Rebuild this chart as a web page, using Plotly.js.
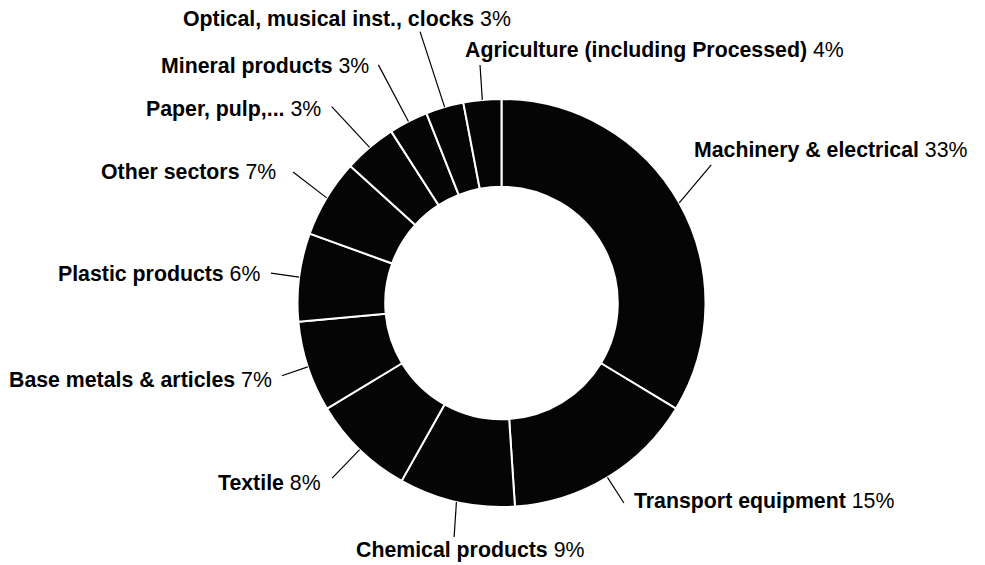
<!DOCTYPE html>
<html>
<head>
<meta charset="utf-8">
<script src="https://cdn.plot.ly/plotly-3.0.1.min.js"></script>
<style>html,body{margin:0;padding:0;background:#fff;}#chart{width:985px;height:565px;}</style>
</head>
<body>
<div id="chart"></div>
<script>
// ---- data ----
const categories = [
  "Machinery & electrical",
  "Transport equipment",
  "Chemical products",
  "Textile",
  "Base metals & articles",
  "Plastic products",
  "Other sectors",
  "Paper, pulp,...",
  "Mineral products",
  "Optical, musical inst., clocks",
  "Agriculture (including Processed)"
];
// slice sizes as drawn (share of the ring, %)
const sliceValues = [33.7, 15.3, 9.2, 8.2, 7.2, 7.0, 6.2, 4.2, 3.1, 3.0, 3.0];
// percentages printed on the labels
const pctLabels = ["33%", "15%", "9%", "8%", "7%", "6%", "7%", "3%", "3%", "3%", "4%"];

// ---- layout / style (pixels) ----
const W = 985, H = 565;
const CX = 501.5, CY = 303, R = 204;
// leader line end offset from slice edge point
const leadEnd = [[32,-38],[16.5,25.7],[-2.3,35],[-27.5,28.5],[-25.8,8.9],[-28.2,-4.1],[-33.6,-25.9],[-37.9,-40.7],[-30,-56.6],[-24.6,-75.4],[-2.3,-34.9]];
// text anchor offset from leader line end
const textOff = [[-19,-14.5],[7.7,-2],[15.5,13],[-9,5],[-8,4],[-9,1],[-15,0],[-9,2.3],[-7.6,1],[-73.5,-12.7],[-17,-15]];
const textAnchor = ["left","left","center","right","right","right","right","right","right","center","left"];

const FONT = "Liberation Sans, Arial, Helvetica, sans-serif";
const FS = 21.3;

const px = x => x / W;
const py = y => 1 - y / H;

const total = sliceValues.reduce((a, b) => a + b, 0);
let cum = 0;
const shapes = [], annotations = [];
sliceValues.forEach((v, i) => {
  const mid = (cum + v / 2) / total * 2 * Math.PI;
  cum += v;
  const hx = CX + R * Math.sin(mid);
  const hy = CY - R * Math.cos(mid);
  const tx = hx + leadEnd[i][0], ty = hy + leadEnd[i][1];
  shapes.push({type: "line", xref: "paper", yref: "paper",
    x0: px(hx), y0: py(hy), x1: px(tx), y1: py(ty),
    line: {color: "#000", width: 1.2}});
  annotations.push({xref: "paper", yref: "paper",
    x: px(tx + textOff[i][0]), y: py(ty + textOff[i][1]),
    xanchor: textAnchor[i], yanchor: "middle", showarrow: false,
    text: "<b>" + categories[i] + "</b> " + pctLabels[i],
    font: {family: FONT, size: FS, color: "#000"}});
});

const trace = {
  type: "pie",
  labels: categories,
  values: sliceValues,
  sort: false,
  direction: "clockwise",
  rotation: 0,
  hole: 0.57,
  textinfo: "none",
  hoverinfo: "none",
  marker: {colors: categories.map(() => "#050505"), line: {color: "#ffffff", width: 2}},
  domain: {x: [px(CX - R), px(CX + R)], y: [py(CY + R), py(CY - R)]},
  showlegend: false
};

const layout = {
  width: W, height: H,
  margin: {l: 0, r: 0, t: 0, b: 0},
  paper_bgcolor: "#fff",
  plot_bgcolor: "#fff",
  showlegend: false,
  shapes: shapes,
  annotations: annotations
};

Plotly.newPlot("chart", [trace], layout, {displayModeBar: false, staticPlot: true});
</script>
</body>
</html>
